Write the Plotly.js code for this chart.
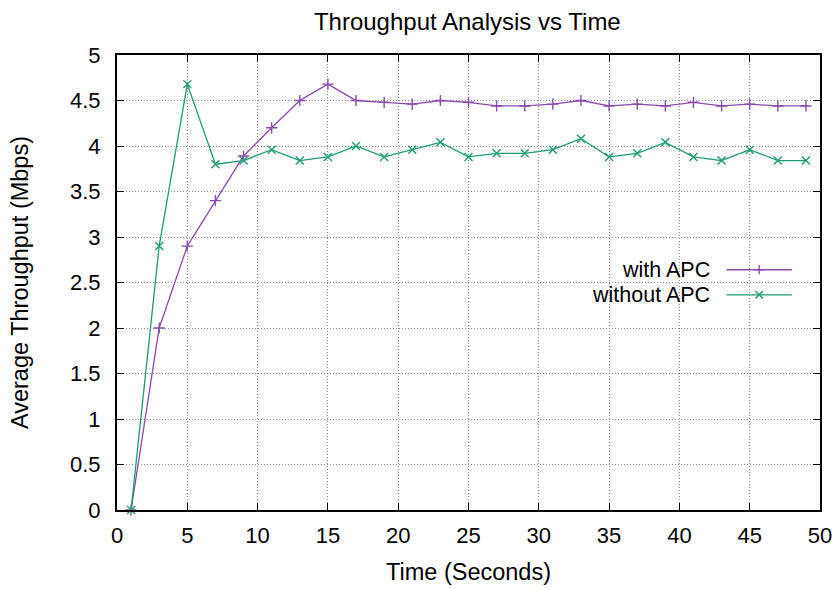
<!DOCTYPE html>
<html>
<head>
<meta charset="utf-8">
<script src="https://cdn.plot.ly/plotly-3.0.1.min.js"></script>
<style>
  html, body { margin: 0; padding: 0; background: #fff; }
  #chart { width: 839px; height: 589px; }
</style>
</head>
<body>
<div id="chart"></div>
<script>
// Sampling instants (seconds)
const timeSec = [1, 3, 5, 7, 9, 11, 13, 15, 17, 19, 21, 23, 25, 27, 29, 31, 33, 35, 37, 39, 41, 43, 45, 47, 49];

// Average throughput (Mbps)
const withAPC = [0, 2.0, 2.9, 3.4, 3.89, 4.2, 4.5, 4.68, 4.5, 4.48, 4.46, 4.5, 4.48, 4.44, 4.44, 4.46, 4.5, 4.44, 4.46, 4.44, 4.48, 4.44, 4.46, 4.44, 4.44];
const withoutAPC = [0, 2.9, 4.68, 3.8, 3.84, 3.96, 3.84, 3.88, 4.0, 3.88, 3.96, 4.04, 3.88, 3.92, 3.92, 3.96, 4.08, 3.88, 3.92, 4.04, 3.88, 3.84, 3.96, 3.84, 3.84];

const seriesNames = ['with APC', 'without APC'];
const xTicks = [0, 5, 10, 15, 20, 25, 30, 35, 40, 45, 50];
const yTicks = [0, 0.5, 1, 1.5, 2, 2.5, 3, 3.5, 4, 4.5, 5];

const purple = '#8c4bae';
const green = '#1e9c73';
const font = 'Liberation Sans, Arial, Helvetica, sans-serif';

const series = [
  { y: withAPC, color: purple, symbol: 'cross-thin', keyPath: 'M-4.5,0 L4.5,0 M0,-4.5 L0,4.5' },
  { y: withoutAPC, color: green, symbol: 'x-thin', keyPath: 'M-3.8,-3.8 L3.8,3.8 M-3.8,3.8 L3.8,-3.8' }
];

const traces = series.map((s, i) => ({
  x: timeSec, y: s.y, name: seriesNames[i],
  type: 'scatter', mode: 'lines+markers',
  line: { color: s.color, width: 1.3 },
  marker: { symbol: s.symbol, size: 8, color: s.color, line: { color: s.color, width: 1.4 } },
  showlegend: false, cliponaxis: false
}));

// Key: label on the left, line sample with a centred marker on the right
const keyRowsY = [0.528, 0.473];
const keyX0 = 0.867, keyX1 = 0.960, keyTextX = 0.847;
const shapes = [];
series.forEach((s, i) => {
  shapes.push({
    type: 'line', xref: 'paper', yref: 'paper',
    x0: keyX0, x1: keyX1, y0: keyRowsY[i], y1: keyRowsY[i],
    line: { color: s.color, width: 1.3 }
  });
  shapes.push({
    type: 'path', xref: 'paper', yref: 'paper',
    xsizemode: 'pixel', ysizemode: 'pixel',
    xanchor: (keyX0 + keyX1) / 2, yanchor: keyRowsY[i],
    path: s.keyPath, line: { color: s.color, width: 1.4 }
  });
});

const axisCommon = {
  showline: true, linecolor: '#000', linewidth: 2, mirror: 'ticks',
  ticks: 'inside', ticklen: 7, tickwidth: 1, tickcolor: '#000',
  showgrid: true, gridcolor: '#8a8a8a', griddash: '1px,2px', gridwidth: 1,
  zeroline: false,
  tickfont: { family: font, size: 22, color: '#000' }
};

const layout = {
  width: 839, height: 589,
  margin: { l: 117, r: 19, t: 55, b: 79 },
  paper_bgcolor: '#fff', plot_bgcolor: '#fff',
  font: { family: font, color: '#000' },
  title: { text: 'Throughput Analysis vs Time', font: { family: font, size: 24, color: '#000' }, x: 0.557, xanchor: 'center', y: 0.964, yanchor: 'middle' },
  xaxis: Object.assign({}, axisCommon, {
    range: [0, 50], tickvals: xTicks, ticktext: xTicks.map(String), ticklabelstandoff: 5,
    title: { text: 'Time (Seconds)', font: { family: font, size: 23.5, color: '#000' }, standoff: 16 }
  }),
  yaxis: Object.assign({}, axisCommon, {
    range: [0, 5], tickvals: yTicks, ticktext: yTicks.map(String), ticklabelstandoff: 10,
    title: { text: 'Average Throughput (Mbps)', font: { family: font, size: 23.5, color: '#000' }, standoff: 35 }
  }),
  shapes: shapes,
  annotations: seriesNames.map((n, i) => ({
    xref: 'paper', yref: 'paper', x: keyTextX, y: keyRowsY[i],
    xanchor: 'right', yanchor: 'middle', showarrow: false,
    text: n, font: { family: font, size: 21.5, color: '#000' }
  })),
  showlegend: false
};

Plotly.newPlot('chart', traces, layout, { displayModeBar: false, staticPlot: true });
</script>
</body>
</html>
